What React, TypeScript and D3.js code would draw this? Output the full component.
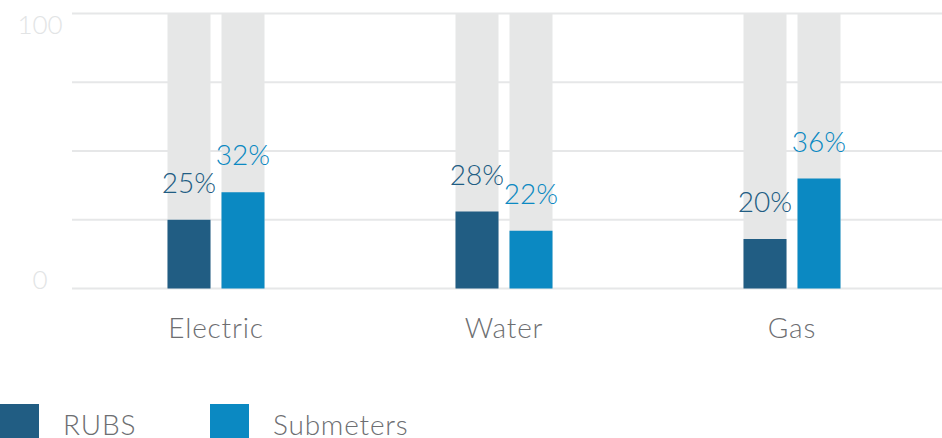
import React from "react";
import * as d3 from "d3";

const categories = ["Electric", "Water", "Gas"];
const series = ["RUBS", "Submeters"];
const rubsValues = [25, 28, 18];
const submeterValues = [35, 21, 40];
const rubsLabels = ["25%", "28%", "20%"];
const submeterLabels = ["32%", "22%", "36%"];
const gridTicks = [0, 25, 50, 75, 100];
const axisLabels = [0, 100];

const colors: Record<string, string> = { RUBS: "#215d83", Submeters: "#0b89c2" };
const FONT = "Lato, 'Open Sans', sans-serif";

export default function App() {
  const width = 942;
  const height = 438;
  const x0 = d3.scaleBand<string>().domain(categories).range([72, 936]).padding(0);
  const half = x0.bandwidth() / 2;
  const x1 = d3
    .scaleBand<string>()
    .domain(series)
    .range([half - 48.5, half + 48.5])
    .paddingInner(11 / 54)
    .paddingOuter(0);
  const y = d3.scaleLinear().domain([0, 100]).range([288.5, 13.5]);

  const valuesBySeries: Record<string, number[]> = { RUBS: rubsValues, Submeters: submeterValues };
  const labelsBySeries: Record<string, string[]> = { RUBS: rubsLabels, Submeters: submeterLabels };

  return (
    <svg
      width={width}
      height={height}
      style={{ position: "absolute", left: 0, top: 0, background: "#fff" }}
      fontFamily={FONT}
    >
      {gridTicks.map((t) => (
        <line key={t} x1={72} x2={width} y1={y(t)} y2={y(t)} stroke="#e6e7e8" strokeWidth={2} />
      ))}
      {axisLabels.map((t) => (
        <text
          key={t}
          x={40}
          y={t === 100 ? y(t) + 20.5 : y(t) + 0.5}
          textAnchor="middle"
          fontSize={26}
          fontWeight={300}
          fill="#e2e4e5"
        >
          {t}
        </text>
      ))}
      {categories.map((c, i) => (
        <g key={c} transform={`translate(${x0(c)},0)`}>
          {series.map((s) => {
            const v = valuesBySeries[s][i];
            const bx = x1(s)!;
            const bw = x1.bandwidth();
            return (
              <g key={s}>
                <rect x={bx} y={y(100)} width={bw} height={y(0) - y(100)} fill="#e6e7e7" />
                <rect x={bx} y={y(v)} width={bw} height={y(0) - y(v)} fill={colors[s]} />
                <text
                  x={bx + bw / 2}
                  y={y(v) - 27}
                  textAnchor="middle"
                  fontSize={28}
                  fontWeight={300}
                  fill={colors[s]}
                >
                  {labelsBySeries[s][i]}
                </text>
              </g>
            );
          })}
          <text
            x={half}
            y={338}
            textAnchor="middle"
            fontSize={28}
            fontWeight={300}
            letterSpacing={0.8}
            fill="#6d6e71"
          >
            {c}
          </text>
        </g>
      ))}
      {series.map((s, i) => {
        const lx = i === 0 ? 0 : 210;
        return (
          <g key={s} transform={`translate(${lx},404)`}>
            <rect x={0} y={0} width={39} height={34} fill={colors[s]} />
            <text x={63} y={31} fontSize={28} fontWeight={300} letterSpacing={0.8} fill="#6d6e71">
              {s}
            </text>
          </g>
        );
      })}
    </svg>
  );
}
